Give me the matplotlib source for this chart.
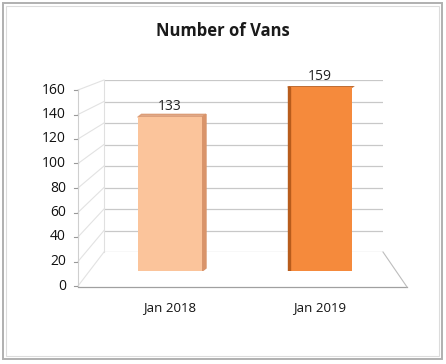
import matplotlib.pyplot as plt
from matplotlib.patches import Rectangle, Polygon
from matplotlib.lines import Line2D

categories = ['Jan 2018', 'Jan 2019']
values = [133, 159]
yticks = [0, 20, 40, 60, 80, 100, 120, 140, 160]
bar_colors = ['#fbc49b', '#f58a3c']
side_colors = ['#d9946a', '#b85c1c']

W, H = 446, 364
fig = plt.figure(figsize=(W / 100, H / 100), dpi=100)
fig.patch.set_facecolor('white')


def fx(px):
    return px / W


def fy(py):
    return 1 - py / H


# chart frame
fig.add_artist(Rectangle((fx(3), fy(359)), fx(439), (356) / H, transform=fig.transFigure,
                         fill=False, edgecolor='#b0b0b0', linewidth=1.4))
fig.add_artist(Rectangle((fx(6), fy(356)), fx(433), (350) / H, transform=fig.transFigure,
                         fill=False, edgecolor='#dcdcdc', linewidth=0.8))

fig.text(fx(223), fy(31), 'Number of Vans', ha='center', va='center',
         fontsize=12, fontweight='bold', color='#1a1a1a', family='Open Sans')

# back wall (gridlines)
back = fig.add_axes([fx(104), fy(252), fx(383 - 104), (252 - 80) / H])
back.set_ylim(0, 160)
back.set_xlim(0, 1)
back.set_yticks(yticks)
back.yaxis.grid(True, color='#c8c8c8', linewidth=0.9)
back.set_xticks([])
back.tick_params(left=False, labelleft=False)
for s in back.spines.values():
    s.set_visible(False)
back.patch.set_alpha(0)

# perspective side wall and floor lines
front_x, front_y0, front_y1 = 78, 286, 90
for v in yticks:
    yb = 252 - v * (252 - 80) / 160
    yf = front_y0 - v * (front_y0 - front_y1) / 160
    fig.add_artist(Line2D([fx(front_x), fx(104)], [fy(yf), fy(yb)],
                          transform=fig.transFigure, color='#e2e2e2', linewidth=0.8))
    fig.add_artist(Line2D([fx(front_x - 4), fx(front_x)], [fy(yf), fy(yf)],
                          transform=fig.transFigure, color='#999999', linewidth=0.8))
    fig.text(fx(front_x - 12), fy(yf), str(v), ha='right', va='center',
             fontsize=10, color='#111111', family='Open Sans')
fig.add_artist(Line2D([fx(front_x), fx(front_x)], [fy(front_y0), fy(front_y1)],
                      transform=fig.transFigure, color='#cfcfcf', linewidth=0.8))
fig.add_artist(Line2D([fx(front_x), fx(407)], [fy(287), fy(287)],
                      transform=fig.transFigure, color='#a0a0a0', linewidth=0.9))
fig.add_artist(Line2D([fx(383), fx(407)], [fy(252), fy(287)],
                      transform=fig.transFigure, color='#bdbdbd', linewidth=0.8))
fig.add_artist(Line2D([fx(104), fx(104)], [fy(252), fy(80)],
                      transform=fig.transFigure, color='#e0e0e0', linewidth=0.8))

# bars (front faces)
ax = fig.add_axes([fx(95), fy(271), fx(300), (271 - 86) / H])
ax.set_xlim(-0.5, 1.5)
ax.set_ylim(0, 160)
ax.axis('off')
ax.patch.set_alpha(0)
width = 0.43
xs = list(range(len(categories)))
ax.bar(xs, values, width=width, color=bar_colors, zorder=3)
d = 0.025
for i, (x, v) in enumerate(zip(xs, values)):
    # top face
    ax.add_patch(Polygon([(x - width / 2, v), (x + width / 2, v),
                          (x + width / 2 + d, v + 2.5), (x - width / 2 + d, v + 2.5)],
                         closed=True, color=side_colors[i], alpha=0.8, zorder=2))
    if i == 0:
        edge = x + width / 2
        ax.add_patch(Polygon([(edge, 0), (edge + d, 2.5), (edge + d, v + 2.5), (edge, v)],
                             closed=True, color=side_colors[i], zorder=2))
    else:
        edge = x - width / 2
        ax.add_patch(Rectangle((edge, 0), d * 0.6, v, color=side_colors[i], zorder=4))
    ax.text(x, v + 3, str(v), ha='center', va='bottom', fontsize=10,
            color='#222222', family='Open Sans')

# category labels
for x, c in zip(xs, categories):
    px = 95 + (x + 0.5) * 150
    fig.text(fx(px), fy(308), c, ha='center', va='center', fontsize=9.5,
             color='#111111', family='Open Sans')

fig.savefig('out.png', dpi=100)
